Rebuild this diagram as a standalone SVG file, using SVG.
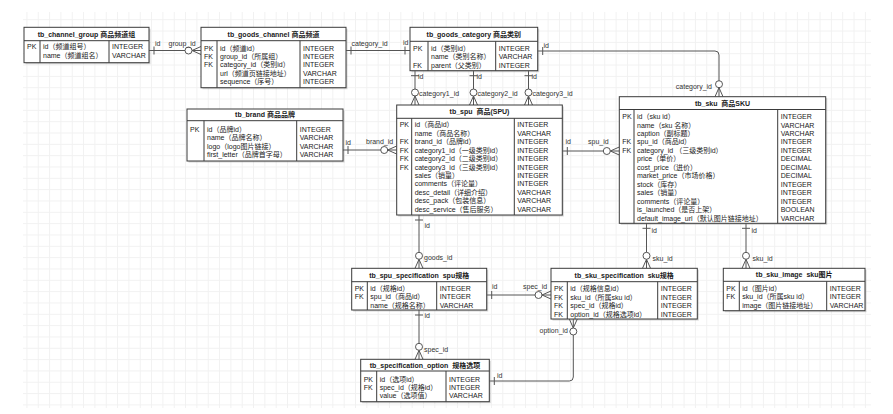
<svg xmlns="http://www.w3.org/2000/svg" width="893" height="414" viewBox="0 0 893 414">
<style>
.t{font-family:"Liberation Sans","Noto Sans CJK SC",sans-serif;font-size:7px;fill:#1a1a1a}
.ttl{font-weight:bold;text-anchor:middle;white-space:pre}
.lbl{fill:#333}
.end{text-anchor:end}
.box{fill:#fff;stroke:#3a3a3a;stroke-width:1}
.shadow{fill:#888;opacity:0.35}
.sep{stroke:#3a3a3a;stroke-width:1}
.conn{fill:none;stroke:#555;stroke-width:1}
.rel{marker-start:url(#one);marker-end:url(#zm)}
.oneone{marker-start:url(#one);marker-end:url(#one)}
</style>
<defs>
<pattern id="grid" x="3.8" y="7.9" width="11.33" height="11.33" patternUnits="userSpaceOnUse">
<path d="M0.5,0 V11.33 M0,0.5 H11.33" fill="none" stroke="#f1f1f1" stroke-width="1"/>
</pattern>
<marker id="one" markerUnits="userSpaceOnUse" orient="auto-start-reverse" overflow="visible" markerWidth="1" markerHeight="1" refX="0" refY="0">
<path d="M-5,-4 V4" fill="none" stroke="#555" stroke-width="1"/>
</marker>
<marker id="zm" markerUnits="userSpaceOnUse" orient="auto" overflow="visible" markerWidth="1" markerHeight="1" refX="0" refY="0">
<path d="M-9,0 L0,-4 M-9,0 L0,4" fill="none" stroke="#555" stroke-width="1"/>
<circle cx="-12.5" cy="0" r="3.5" fill="#fff" stroke="#555" stroke-width="1"/>
</marker>
</defs>
<rect x="0" y="0" width="893" height="414" fill="#fff"/>
<rect x="23" y="12" width="848" height="396" fill="url(#grid)"/>

<g id="connectors">
<path class="conn rel" d="M149,50.5 H201"/>
<text class="t lbl" x="155" y="45.5">id</text>
<text class="t lbl" x="168.5" y="45.5">group_id</text>

<path class="conn oneone" d="M346,50.5 H410"/>
<text class="t lbl" x="351.5" y="46">category_id</text>
<text class="t lbl" x="403" y="45">id</text>

<path class="conn rel" d="M537.7,51 H715 Q719,51 719,55 V96.7"/>
<text class="t lbl" x="543.5" y="47.5">id</text>
<text class="t lbl end" x="712" y="88.5">category_id</text>

<path class="conn rel" d="M415,70.7 V105"/>
<text class="t lbl" x="418" y="79">id</text>
<text class="t lbl" x="419" y="95.5">category1_id</text>
<path class="conn rel" d="M473.5,70.7 V105"/>
<text class="t lbl" x="476.5" y="79">id</text>
<text class="t lbl" x="477.5" y="95.5">category2_id</text>
<path class="conn rel" d="M528.5,70.7 V105"/>
<text class="t lbl" x="531.5" y="79">id</text>
<text class="t lbl" x="532.5" y="95.5">category3_id</text>

<path class="conn rel" d="M343,150 H396.7"/>
<text class="t lbl" x="345.5" y="145">id</text>
<text class="t lbl" x="366" y="144">brand_id</text>

<path class="conn rel" d="M562.3,151 H619.3"/>
<text class="t lbl" x="565.5" y="144">id</text>
<text class="t lbl" x="588" y="143.5">spu_id</text>

<path class="conn rel" d="M646.5,223.3 V268.3"/>
<text class="t lbl" x="651.5" y="233">id</text>
<text class="t lbl" x="652.5" y="261">sku_id</text>

<path class="conn rel" d="M746,223.3 V268.3"/>
<text class="t lbl" x="751.5" y="233">id</text>
<text class="t lbl" x="752.5" y="261">sku_id</text>

<path class="conn rel" d="M419,215 V268.3"/>
<text class="t lbl" x="424.5" y="228">id</text>
<text class="t lbl" x="424" y="260">goods_id</text>

<path class="conn rel" d="M486.7,295 H551"/>
<text class="t lbl" x="492" y="289">id</text>
<text class="t lbl" x="523" y="288.5">spec_id</text>

<path class="conn rel" d="M419,310 V359.3"/>
<text class="t lbl" x="424.5" y="317.5">id</text>
<text class="t lbl" x="424" y="351.5">spec_id</text>

<path class="conn rel" d="M489.3,381 H569.3 Q573.3,381 573.3,377 V319"/>
<text class="t lbl" x="497" y="377.5">id</text>
<text class="t lbl end" x="568" y="333">option_id</text>
</g>

<g id="tb_channel_group">
<rect class="shadow" x="25.5" y="28.8" width="125" height="35.4"/>
<rect class="box" x="24" y="27.3" width="125" height="35.4"/>
<line class="sep" x1="24" y1="40.7" x2="149" y2="40.7"/>
<line class="sep" x1="40" y1="40.7" x2="40" y2="62.7"/>
<line class="sep" x1="109" y1="40.7" x2="109" y2="62.7"/>
<text class="t ttl" x="86.5" y="36.5">tb_channel_group 商品频道组</text>
<text class="t" x="27" y="49">PK</text><text class="t" x="43" y="49">id（频道组号）</text><text class="t" x="112" y="49">INTEGER</text>
<text class="t" x="43" y="57.5">name（频道组名）</text><text class="t" x="112" y="57.5">VARCHAR</text>
</g>

<g id="tb_goods_channel">
<rect class="shadow" x="202.5" y="28.8" width="145" height="60.4"/>
<rect class="box" x="201" y="27.3" width="145" height="60.4"/>
<line class="sep" x1="201" y1="40.7" x2="346" y2="40.7"/>
<line class="sep" x1="217" y1="40.7" x2="217" y2="87.7"/>
<line class="sep" x1="300" y1="40.7" x2="300" y2="87.7"/>
<text class="t ttl" x="273.5" y="36.5">tb_goods_channel 商品频道</text>
<text class="t" x="204" y="50.5">PK</text><text class="t" x="220" y="50.5">id（频道id）</text><text class="t" x="303" y="50.5">INTEGER</text>
<text class="t" x="204" y="58.95">FK</text><text class="t" x="220" y="58.95">group_id（所属组）</text><text class="t" x="303" y="58.95">INTEGER</text>
<text class="t" x="204" y="67.4">FK</text><text class="t" x="220" y="67.4">category_id（类别id）</text><text class="t" x="303" y="67.4">INTEGER</text>
<text class="t" x="220" y="75.85">url（频道页链接地址）</text><text class="t" x="303" y="75.85">VARCHAR</text>
<text class="t" x="220" y="84.3">sequence（序号）</text><text class="t" x="303" y="84.3">INTEGER</text>
</g>

<g id="tb_goods_category">
<rect class="shadow" x="411.5" y="28.8" width="127.7" height="43.4"/>
<rect class="box" x="410" y="27.3" width="127.7" height="43.4"/>
<line class="sep" x1="410" y1="41.3" x2="537.7" y2="41.3"/>
<line class="sep" x1="428" y1="41.3" x2="428" y2="70.7"/>
<line class="sep" x1="495.7" y1="41.3" x2="495.7" y2="70.7"/>
<text class="t ttl" x="473.85" y="36.8">tb_goods_category 商品类别</text>
<text class="t" x="413" y="50.8">PK</text><text class="t" x="431" y="50.8">id（类别id）</text><text class="t" x="498.7" y="50.8">INTEGER</text>
<text class="t" x="431" y="59.25">name（类别名称）</text><text class="t" x="498.7" y="59.25">VARCHAR</text>
<text class="t" x="413" y="67.7">FK</text><text class="t" x="431" y="67.7">parent（父类别）</text><text class="t" x="498.7" y="67.7">INTEGER</text>
</g>

<g id="tb_brand">
<rect class="shadow" x="188.5" y="110.5" width="156" height="52"/>
<rect class="box" x="187" y="109" width="156" height="52"/>
<line class="sep" x1="187" y1="120.7" x2="343" y2="120.7"/>
<line class="sep" x1="204" y1="120.7" x2="204" y2="161"/>
<line class="sep" x1="296.7" y1="120.7" x2="296.7" y2="161"/>
<text class="t ttl" x="265" y="117.4">tb_brand 商品品牌</text>
<text class="t" x="190" y="132">PK</text><text class="t" x="207" y="132">id（品牌id）</text><text class="t" x="299.7" y="132">INTEGER</text>
<text class="t" x="207" y="140.45">name（品牌名称）</text><text class="t" x="299.7" y="140.45">VARCHAR</text>
<text class="t" x="207" y="148.9">logo（logo图片链接）</text><text class="t" x="299.7" y="148.9">VARCHAR</text>
<text class="t" x="207" y="157.35">first_letter（品牌首字母）</text><text class="t" x="299.7" y="157.35">VARCHAR</text>
</g>

<g id="tb_spu">
<rect class="shadow" x="398.2" y="106.5" width="165.6" height="110"/>
<rect class="box" x="396.7" y="105" width="165.6" height="110"/>
<line class="sep" x1="396.7" y1="118.3" x2="562.3" y2="118.3"/>
<line class="sep" x1="411.7" y1="118.3" x2="411.7" y2="215"/>
<line class="sep" x1="514.3" y1="118.3" x2="514.3" y2="215"/>
<text class="t ttl" x="479.5" y="114.2">tb_spu  商品(SPU)</text>
<text class="t" x="399.7" y="127.3">PK</text><text class="t" x="414.7" y="127.3">id（商品id）</text><text class="t" x="517.3" y="127.3">INTEGER</text>
<text class="t" x="414.7" y="135.75">name（商品名称）</text><text class="t" x="517.3" y="135.75">VARCHAR</text>
<text class="t" x="399.7" y="144.2">FK</text><text class="t" x="414.7" y="144.2">brand_id（品牌id）</text><text class="t" x="517.3" y="144.2">INTEGER</text>
<text class="t" x="399.7" y="152.65">FK</text><text class="t" x="414.7" y="152.65">category1_id（一级类别id）</text><text class="t" x="517.3" y="152.65">INTEGER</text>
<text class="t" x="399.7" y="161.1">FK</text><text class="t" x="414.7" y="161.1">category2_id（二级类别id）</text><text class="t" x="517.3" y="161.1">INTEGER</text>
<text class="t" x="399.7" y="169.55">FK</text><text class="t" x="414.7" y="169.55">category3_id（三级类别id）</text><text class="t" x="517.3" y="169.55">INTEGER</text>
<text class="t" x="414.7" y="178">sales（销量）</text><text class="t" x="517.3" y="178">INTEGER</text>
<text class="t" x="414.7" y="186.45">comments（评论量）</text><text class="t" x="517.3" y="186.45">INTEGER</text>
<text class="t" x="414.7" y="194.9">desc_detail（详细介绍）</text><text class="t" x="517.3" y="194.9">VARCHAR</text>
<text class="t" x="414.7" y="203.35">desc_pack（包装信息）</text><text class="t" x="517.3" y="203.35">VARCHAR</text>
<text class="t" x="414.7" y="211.8">desc_service（售后服务）</text><text class="t" x="517.3" y="211.8">VARCHAR</text>
</g>

<g id="tb_sku">
<rect class="shadow" x="620.8" y="98.2" width="206.4" height="126.6"/>
<rect class="box" x="619.3" y="96.7" width="206.4" height="126.6"/>
<line class="sep" x1="619.3" y1="109.5" x2="825.7" y2="109.5"/>
<line class="sep" x1="634" y1="109.5" x2="634" y2="223.3"/>
<line class="sep" x1="777.7" y1="109.5" x2="777.7" y2="223.3"/>
<text class="t ttl" x="722.5" y="105.6">tb_sku  商品SKU</text>
<text class="t" x="622.3" y="119.1">PK</text><text class="t" x="637" y="119.1">id（sku id）</text><text class="t" x="780.7" y="119.1">INTEGER</text>
<text class="t" x="637" y="127.55">name（sku 名称）</text><text class="t" x="780.7" y="127.55">VARCHAR</text>
<text class="t" x="637" y="136">caption（副标题）</text><text class="t" x="780.7" y="136">VARCHAR</text>
<text class="t" x="622.3" y="144.45">FK</text><text class="t" x="637" y="144.45">spu_id（商品id）</text><text class="t" x="780.7" y="144.45">INTEGER</text>
<text class="t" x="622.3" y="152.9">FK</text><text class="t" x="637" y="152.9" style="white-space:pre">category_id （三级类别id）</text><text class="t" x="780.7" y="152.9">INTEGER</text>
<text class="t" x="637" y="161.35">price（单价）</text><text class="t" x="780.7" y="161.35">DECIMAL</text>
<text class="t" x="637" y="169.8">cost_price（进价）</text><text class="t" x="780.7" y="169.8">DECIMAL</text>
<text class="t" x="637" y="178.25">market_price（市场价格）</text><text class="t" x="780.7" y="178.25">DECIMAL</text>
<text class="t" x="637" y="186.7">stock（库存）</text><text class="t" x="780.7" y="186.7">INTEGER</text>
<text class="t" x="637" y="195.15">sales（销量）</text><text class="t" x="780.7" y="195.15">INTEGER</text>
<text class="t" x="637" y="203.6">comments（评论量）</text><text class="t" x="780.7" y="203.6">INTEGER</text>
<text class="t" x="637" y="212.05">is_launched（是否上架）</text><text class="t" x="780.7" y="212.05">BOOLEAN</text>
<text class="t" x="637" y="220.5">default_image_url（默认图片链接地址）</text><text class="t" x="780.7" y="220.5">VARCHAR</text>
</g>

<g id="tb_spu_specification">
<rect class="shadow" x="353.2" y="269.8" width="135" height="41.7"/>
<rect class="box" x="351.7" y="268.3" width="135" height="41.7"/>
<line class="sep" x1="351.7" y1="281.7" x2="486.7" y2="281.7"/>
<line class="sep" x1="367.3" y1="281.7" x2="367.3" y2="310"/>
<line class="sep" x1="436.7" y1="281.7" x2="436.7" y2="310"/>
<text class="t ttl" x="419.2" y="277.5">tb_spu_specification  spu规格</text>
<text class="t" x="354.7" y="291">PK</text><text class="t" x="370.3" y="291">id（规格id）</text><text class="t" x="439.7" y="291">INTEGER</text>
<text class="t" x="354.7" y="299.45">FK</text><text class="t" x="370.3" y="299.45">spu_id（商品id）</text><text class="t" x="439.7" y="299.45">INTEGER</text>
<text class="t" x="370.3" y="307.9">name（规格名称）</text><text class="t" x="439.7" y="307.9">VARCHAR</text>
</g>

<g id="tb_sku_specification">
<rect class="shadow" x="552.5" y="269.8" width="146.3" height="50.7"/>
<rect class="box" x="551" y="268.3" width="146.3" height="50.7"/>
<line class="sep" x1="551" y1="281.7" x2="697.3" y2="281.7"/>
<line class="sep" x1="567.3" y1="281.7" x2="567.3" y2="319"/>
<line class="sep" x1="657.7" y1="281.7" x2="657.7" y2="319"/>
<text class="t ttl" x="624.15" y="277.5">tb_sku_specification  sku规格</text>
<text class="t" x="554" y="291.3">PK</text><text class="t" x="570.3" y="291.3">id（规格信息id）</text><text class="t" x="660.7" y="291.3">INTEGER</text>
<text class="t" x="554" y="299.75">FK</text><text class="t" x="570.3" y="299.75">sku_id（所属sku id）</text><text class="t" x="660.7" y="299.75">INTEGER</text>
<text class="t" x="554" y="308.2">FK</text><text class="t" x="570.3" y="308.2">spec_id（规格id）</text><text class="t" x="660.7" y="308.2">INTEGER</text>
<text class="t" x="554" y="316.65">FK</text><text class="t" x="570.3" y="316.65">option_id（规格选项id）</text><text class="t" x="660.7" y="316.65">INTEGER</text>
</g>

<g id="tb_sku_image">
<rect class="shadow" x="724.8" y="269.8" width="141.7" height="42.4"/>
<rect class="box" x="723.3" y="268.3" width="141.7" height="42.4"/>
<line class="sep" x1="723.3" y1="281.3" x2="865" y2="281.3"/>
<line class="sep" x1="739.3" y1="281.3" x2="739.3" y2="310.7"/>
<line class="sep" x1="826.7" y1="281.3" x2="826.7" y2="310.7"/>
<text class="t ttl" x="794.15" y="277.3">tb_sku_image  sku图片</text>
<text class="t" x="726.3" y="291">PK</text><text class="t" x="742.3" y="291">id（图片id）</text><text class="t" x="829.7" y="291">INTEGER</text>
<text class="t" x="726.3" y="299.45">FK</text><text class="t" x="742.3" y="299.45">sku_id（所属sku id）</text><text class="t" x="829.7" y="299.45">INTEGER</text>
<text class="t" x="742.3" y="307.9">image（图片链接地址）</text><text class="t" x="829.7" y="307.9">VARCHAR</text>
</g>

<g id="tb_specification_option">
<rect class="shadow" x="362.2" y="360.8" width="128.6" height="42.4"/>
<rect class="box" x="360.7" y="359.3" width="128.6" height="42.4"/>
<line class="sep" x1="360.7" y1="371" x2="489.3" y2="371"/>
<line class="sep" x1="376.7" y1="371" x2="376.7" y2="401.7"/>
<line class="sep" x1="446" y1="371" x2="446" y2="401.7"/>
<text class="t ttl" x="425" y="367.6">tb_specification_option  规格选项</text>
<text class="t" x="363.7" y="381.5">PK</text><text class="t" x="379.7" y="381.5">id（选项id）</text><text class="t" x="449" y="381.5">INTEGER</text>
<text class="t" x="363.7" y="389.95">FK</text><text class="t" x="379.7" y="389.95">spec_id（规格id）</text><text class="t" x="449" y="389.95">INTEGER</text>
<text class="t" x="379.7" y="398.4">value（选项值）</text><text class="t" x="449" y="398.4">VARCHAR</text>
</g>
</svg>
